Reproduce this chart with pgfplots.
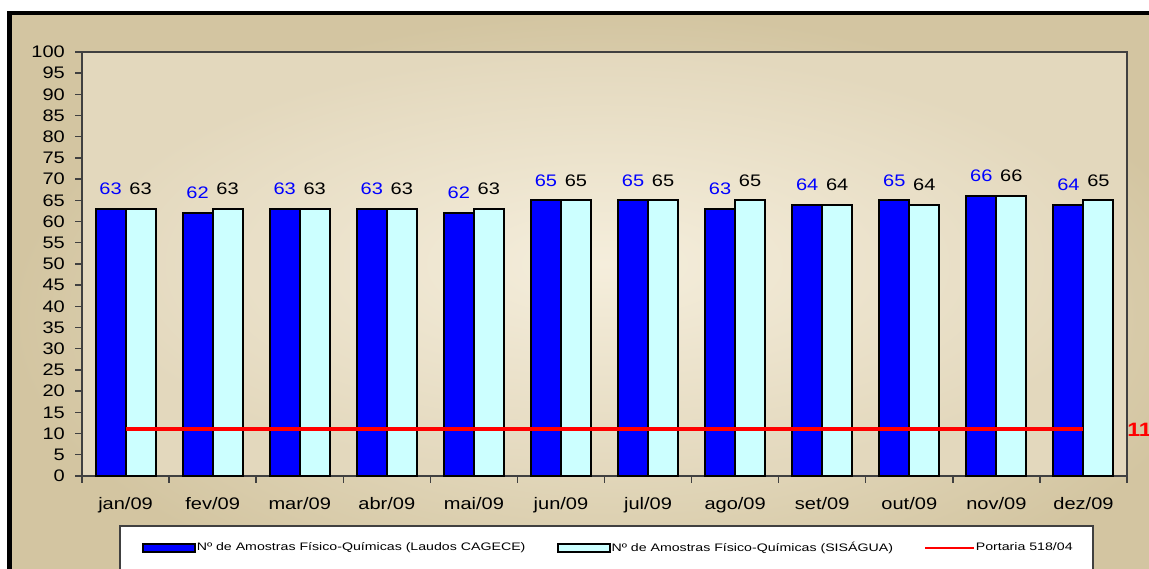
\documentclass[border=0pt]{standalone}
\usepackage{pgfplots}
\pgfplotsset{compat=1.18}
\usepackage{fontspec}
\setmainfont{Liberation Sans}[FakeStretch=1.2]
\newfontfamily\legfont{Liberation Sans}[FakeStretch=1.3]
\definecolor{dkblue}{HTML}{0000FF}
\definecolor{ltcyan}{HTML}{CCFFFF}
\definecolor{bgC}{HTML}{F1E9D4}
\definecolor{bgE}{HTML}{D3C5A1}
\definecolor{plC}{HTML}{F5EEDC}
\definecolor{plE}{HTML}{E3D8BD}
\definecolor{axgray}{HTML}{404040}
\newcommand{\tickfont}{\fontsize{9.5}{11}\selectfont}
\begin{document}
\begin{tikzpicture}
\path[use as bounding box] (0,0) rectangle (22.98,11.38);
\clip (0,0) rectangle (22.98,11.38);
\shade[inner color=bgC, outer color=bgE] (0.19,-1) rectangle (24.5,11.12);
\draw[black, line width=0.09cm] (0.19,-1) rectangle (24.5,11.12);
\draw[axgray, line width=0.6pt, fill=white] (2.4,-0.5) rectangle (21.86,0.86);
\begin{axis}[
  at={(1.64cm,1.86cm)}, anchor=south west,
  scale only axis, width=20.9cm, height=8.48cm,
  clip=false,
  xmin=-0.5, xmax=11.5, ymin=0, ymax=100,
  ytick={0,5,...,100},
  xtick={-0.5,0.5,...,11.5},
  xticklabels={jan/09,fev/09,mar/09,abr/09,mai/09,jun/09,jul/09,ago/09,set/09,out/09,nov/09,dez/09,{}},
  x tick label style={xshift=0.871cm, yshift=-0.16cm, anchor=north, font=\tickfont},
  y tick label style={font=\tickfont, xshift=-0.08cm},
  /pgf/number format/assume math mode=true,
  tick align=outside, tick pos=left,
  major tick length=0.14cm,
  tick style={axgray, line width=0.8pt},
  axis line style={axgray, line width=0.8pt},
  axis background/.style={shade, inner color=plC, outer color=plE},
  legend columns=3,
  legend style={at={(0.5031,-0.1698)}, anchor=center, draw=none, fill=none,
    font=\legfont\fontsize{6.2}{8}\selectfont,
    /tikz/every even column/.append style={column sep=0.6cm},
    nodes={inner sep=0.6pt}},
]
\addplot[ybar, bar width=0.6cm, bar shift=-0.3cm, fill=dkblue, draw=black, line width=0.04cm,
  nodes near coords,
  every node near coord/.append style={text=blue, font=\tickfont, inner sep=0pt, xshift=-0.3cm, yshift=0.26cm, anchor=south},
  legend image code/.code={\draw[fill=dkblue, draw=black, line width=0.04cm] (0cm,-0.085cm) rectangle (1.04cm,0.085cm);}]
coordinates {(0,63) (1,62) (2,63) (3,63) (4,62) (5,65) (6,65) (7,63) (8,64) (9,65) (10,66) (11,64)};
\addlegendentry{Nº de Amostras Físico-Químicas (Laudos CAGECE)}
\addplot[ybar, bar width=0.6cm, bar shift=0.3cm, fill=ltcyan, draw=black, line width=0.04cm,
  nodes near coords,
  every node near coord/.append style={text=black, font=\tickfont, inner sep=0pt, xshift=0.3cm, yshift=0.26cm, anchor=south},
  legend image code/.code={\draw[fill=ltcyan, draw=black, line width=0.04cm] (0cm,-0.085cm) rectangle (1.04cm,0.085cm);}]
coordinates {(0,63) (1,63) (2,63) (3,63) (4,63) (5,65) (6,65) (7,65) (8,64) (9,64) (10,66) (11,65)};
\addlegendentry{Nº de Amostras Físico-Químicas (SISÁGUA)}
\addplot[red, line width=0.08cm, sharp plot, mark=none,
  legend image code/.code={\draw[red, line width=0.045cm] (0cm,0cm) -- (0.97cm,0cm);}]
coordinates {(0,11) (11,11)};
\addlegendentry{Portaria 518/04}
\node[anchor=west, inner sep=0pt, text=red, font=\bfseries\fontsize{11}{13}\selectfont] at (axis cs:11.5,11) {11};
\end{axis}
\end{tikzpicture}
\end{document}
